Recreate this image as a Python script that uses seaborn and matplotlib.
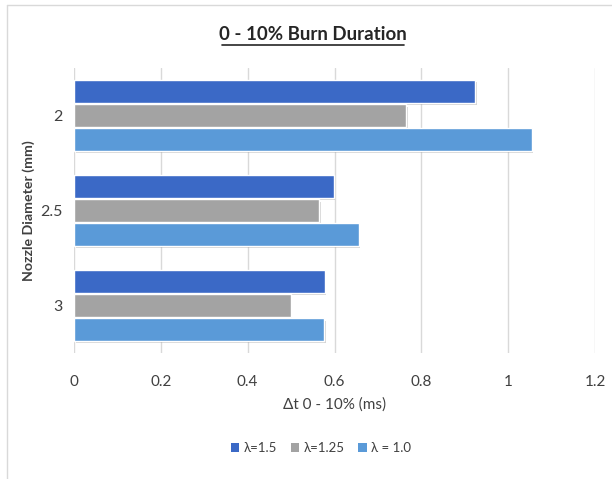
import matplotlib
matplotlib.use("Agg")
import matplotlib.pyplot as plt
import matplotlib.patheffects as pe
from matplotlib.lines import Line2D
from matplotlib.patches import Patch
import seaborn as sns
import pandas as pd

# ---- data ----
diameters = ["2", "2.5", "3"]
series_names = ["λ=1.5", "λ=1.25", "λ = 1.0"]
lam_15 = [0.924, 0.598, 0.577]
lam_125 = [0.765, 0.564, 0.499]
lam_10 = [1.054, 0.656, 0.576]
colors = ["#3b69c6", "#a3a3a3", "#5a9ad8"]
x_ticks = [0, 0.2, 0.4, 0.6, 0.8, 1.0, 1.2]
x_tick_labels = ["0", "0.2", "0.4", "0.6", "0.8", "1", "1.2"]

rows = []
for name, vals in zip(series_names, [lam_15, lam_125, lam_10]):
    for d, v in zip(diameters, vals):
        rows.append({"diam": d, "series": name, "value": v})
df = pd.DataFrame(rows)

sns.set_theme(style="white")
plt.rcParams["font.family"] = ["Lato", "DejaVu Sans"]

fig = plt.figure(figsize=(6.12, 4.79), dpi=100)
ax = fig.add_axes([74 / 612, 1 - 353 / 479, (595 - 74) / 612, (353 - 68) / 479])

sns.barplot(data=df, x="value", y="diam", hue="series", order=diameters,
            hue_order=series_names, palette=colors, orient="h",
            width=0.76, gap=0.08, ax=ax, legend=False, saturation=1)

for p in ax.patches:
    p.set_path_effects([pe.SimplePatchShadow(offset=(1.2, -1.5), alpha=0.25,
                                             shadow_rgbFace="#555555"),
                        pe.Normal()])

ax.set_xlim(0, 1.2)
ax.set_ylim(2.5, -0.5)
ax.set_xticks(x_ticks)
ax.set_xticklabels(x_tick_labels)
ax.grid(axis="x", color="#d9d9d9", linewidth=1)
ax.grid(axis="y", visible=False)
ax.set_axisbelow(True)
for s in ax.spines.values():
    s.set_visible(False)
ax.tick_params(axis="x", length=0, pad=16, labelsize=11, labelcolor="#404040")
ax.tick_params(axis="y", length=0, pad=8.5, labelsize=11.5, labelcolor="#404040")

ax.set_xlabel("Δt 0 - 10% (ms)", fontsize=11, color="#404040")
ax.xaxis.set_label_coords(0.5, -0.157)
ax.set_ylabel("Nozzle Diameter (mm)", fontsize=10.2, fontweight="bold", color="#404040")
ax.yaxis.set_label_coords(-0.075, 0.5)

fig.text(313 / 612, 1 - 35 / 479, "0 - 10% Burn Duration", ha="center", va="center",
         fontsize=13.5, fontweight="bold", color="#262626")
# underline for title
fig.add_artist(Line2D([222 / 612, 404 / 612], [1 - 45 / 479, 1 - 45 / 479],
                      color="#262626", linewidth=1.2))

handles = [Patch(facecolor=c, edgecolor="none") for c in colors]
fig.legend(handles, series_names, loc="center", bbox_to_anchor=(321 / 612, 1 - 448 / 479),
           ncol=3, frameon=False, fontsize=9.5, handlelength=0.65, handleheight=0.65,
           columnspacing=1.0, handletextpad=0.35, labelcolor="#404040")

# chart border (left and top)
fig.add_artist(Line2D([7 / 612, 7 / 612], [0, 1 - 5 / 479], color="#d9d9d9", linewidth=1))
fig.add_artist(Line2D([7 / 612, 1], [1 - 5 / 479, 1 - 5 / 479], color="#d9d9d9", linewidth=1))

fig.savefig("out.png", dpi=100, facecolor="white")
